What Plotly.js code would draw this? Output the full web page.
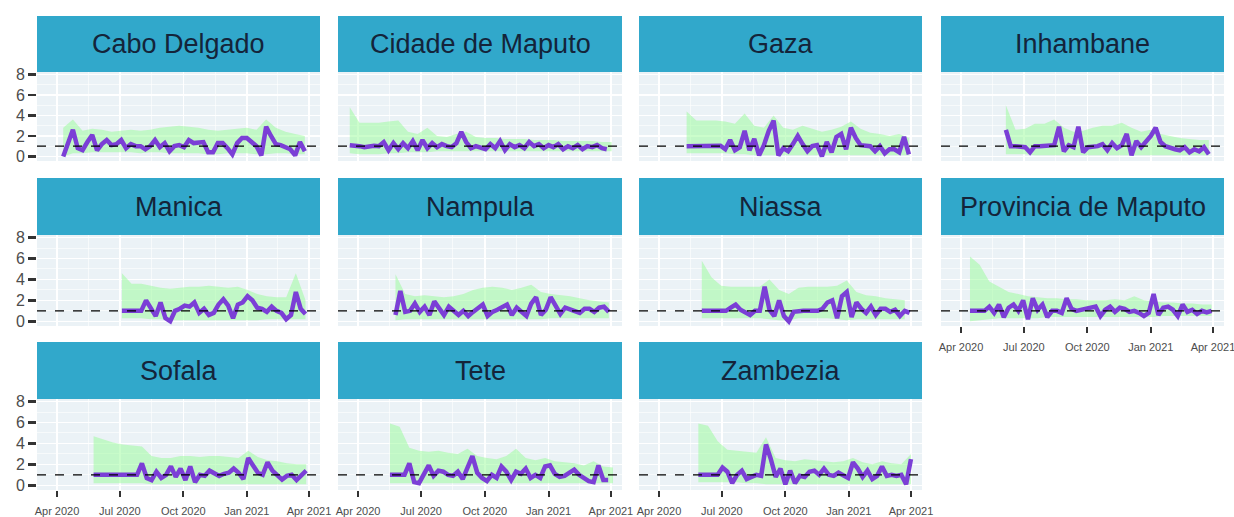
<!DOCTYPE html>
<html>
<head>
<meta charset="utf-8">
<script src="https://cdn.plot.ly/plotly-3.0.1.min.js"></script>
<style>
  html, body { margin: 0; padding: 0; background: #ffffff; }
  #chart { width: 1234px; height: 517px; }
</style>
</head>
<body>
<div id="chart"></div>
<script>
// ---------------- DATA ----------------
const provinces = ["Cabo Delgado", "Cidade de Maputo", "Gaza", "Inhambane",
  "Manica", "Nampula", "Niassa", "Provincia de Maputo",
  "Sofala", "Tete", "Zambezia"];

// first estimate date for each province (weekly Rt, 14-day ribbon)
const startDates = ["2020-04-10", "2020-03-20", "2020-05-11", "2020-06-05",
  "2020-07-04", "2020-05-25", "2020-06-02", "2020-04-14",
  "2020-05-24", "2020-05-17", "2020-05-28"];

const xTickVals = ["2020-04-01", "2020-07-01", "2020-10-01", "2021-01-01", "2021-04-01"];
const xTickText = ["Apr 2020", "Jul 2020", "Oct 2020", "Jan 2021", "Apr 2021"];
const yTickVals = [0, 2, 4, 6, 8];

// Rt (weekly)
const rtCabo = [0.0,1.2,2.6,0.8,0.6,1.4,2.1,0.6,1.2,1.6,1.1,1.2,1.6,0.8,1.2,1.0,1.0,0.7,1.0,1.6,0.9,1.3,0.5,1.0,1.1,0.9,1.6,1.3,1.4,1.4,0.4,0.4,1.3,1.3,0.8,0.2,1.3,1.8,1.8,1.4,1.0,0.1,2.9,2.0,1.2,1.1,0.9,0.7,0.1,1.4,0.5];
const rtCidade = [1.1,1.1,1.0,0.9,1.0,1.05,1.0,1.4,0.6,1.3,0.7,1.3,0.8,1.5,0.6,1.6,0.8,1.3,0.9,1.2,1.0,0.9,1.3,2.4,1.4,0.8,1.0,0.9,0.7,1.2,0.8,1.5,0.6,1.2,0.9,1.1,0.8,1.4,1.0,1.2,0.8,1.1,0.9,1.2,0.7,1.0,0.8,1.1,0.7,1.0,0.9,1.1,0.8,0.7];
const rtGaza = [1.0,1.0,1.0,1.0,1.0,1.0,1.0,1.05,0.7,1.6,0.6,0.9,2.5,0.6,1.7,0.1,1.1,2.5,3.5,0.1,0.8,0.5,1.2,2.0,1.2,0.5,1.0,1.1,0.0,1.4,0.4,1.9,2.2,0.7,2.8,1.8,1.1,1.0,1.0,0.5,1.0,0.3,0.7,0.7,0.4,1.9,0.2];
const rtInhambane = [2.6,1.0,1.0,1.0,0.9,0.4,1.0,1.0,1.0,1.0,1.1,2.9,0.5,1.1,0.9,2.9,0.4,0.9,0.9,1.0,1.2,0.6,1.3,0.8,1.1,2.2,0.1,1.5,0.9,1.4,2.0,2.8,1.4,1.0,0.8,0.7,0.6,0.9,0.4,0.7,0.5,0.9,0.2];
const rtManica = [1.0,1.0,1.0,1.0,1.0,2.0,1.3,0.5,1.8,0.3,0.0,1.0,1.2,1.5,1.4,1.8,0.8,1.2,0.6,0.8,1.6,2.1,1.5,0.3,1.6,1.8,2.4,2.0,1.3,1.2,0.9,1.4,1.0,0.8,0.2,0.6,2.8,1.2,0.7];
const rtNampula = [0.6,2.9,0.9,1.0,1.7,0.9,1.4,0.6,1.9,1.3,0.6,1.4,1.0,0.6,1.0,0.5,0.9,1.2,1.6,0.5,0.9,1.1,1.3,1.6,0.6,1.3,0.9,0.5,1.7,2.3,0.6,1.1,2.3,1.4,0.7,1.3,1.1,1.0,0.8,1.2,1.2,0.9,1.3,1.4,0.9];
const rtNiassa = [1.0,1.0,1.0,1.0,1.0,1.0,1.3,1.6,1.1,0.9,0.6,1.0,1.0,3.3,1.1,0.5,2.0,0.5,0.0,0.9,1.0,1.0,1.0,1.0,1.0,1.2,1.8,2.0,0.3,2.4,2.8,0.4,1.8,1.2,0.8,1.4,0.6,1.2,1.2,0.9,1.1,0.5,1.0,0.8];
const rtProvMaputo = [1.0,1.0,1.0,1.0,1.4,0.8,1.6,0.4,1.3,1.6,1.0,2.0,0.2,2.2,1.1,1.6,0.4,1.0,1.0,0.8,2.2,1.2,1.0,1.1,1.3,1.4,1.4,0.5,1.1,1.4,0.9,1.3,1.2,0.9,1.0,0.8,0.5,0.8,2.6,0.6,1.3,1.4,1.1,0.5,1.6,0.9,1.1,0.7,1.0,0.85,1.0];
const rtSofala = [1.0,1.0,1.0,1.0,1.0,1.0,1.0,1.0,1.0,1.0,2.1,0.7,0.5,1.3,0.7,1.0,1.8,0.8,1.6,0.5,1.8,0.3,1.0,0.9,1.4,1.2,0.9,1.1,1.2,1.6,1.2,0.6,2.6,1.9,1.2,1.0,2.2,1.4,0.9,0.55,0.9,1.0,0.5,0.9,1.4];
const rtTete = [1.0,1.0,1.0,1.0,2.1,0.3,0.2,1.0,1.9,0.9,1.4,1.3,1.0,0.9,1.3,0.6,1.8,2.8,1.2,0.7,0.4,1.0,0.7,1.8,1.3,0.5,1.3,1.1,1.6,0.7,1.0,0.7,1.8,1.9,1.1,0.8,0.9,1.2,1.5,1.0,0.7,0.4,0.3,1.9,0.5,0.5];
const rtZambezia = [1.0,1.0,1.0,1.0,1.0,1.7,1.3,0.2,1.0,1.4,0.6,0.8,1.0,0.9,3.9,2.5,0.8,1.6,0.1,1.4,0.2,0.9,0.8,1.3,1.4,1.0,1.6,1.0,0.9,1.2,0.9,0.7,2.2,1.6,0.8,1.4,0.6,0.9,1.8,0.9,1.0,0.9,1.0,0.1,2.5];

// credible interval upper bound (every 14 days)
const hiCabo = [2.8,3.6,2.5,2.7,2.6,2.4,2.5,2.6,2.5,2.6,2.8,2.9,3.0,2.9,2.8,2.6,2.5,2.6,2.7,2.8,2.6,3.6,2.8,2.4,2.2,2.0];
const hiCidade = [4.8,3.3,3.3,3.3,3.4,3.5,2.4,2.2,2.8,2.0,1.9,2.2,2.4,1.9,1.8,1.8,1.7,1.7,1.7,1.6,1.6,1.6,1.5,1.5,1.5,1.5,1.4,1.4];
const hiGaza = [4.4,3.5,3.5,3.5,3.4,3.2,4.2,3.0,2.8,4.0,2.8,2.6,3.0,2.7,2.4,2.6,2.9,3.4,2.7,2.3,2.2,2.0,2.2,1.8];
const hiInhambane = [5.0,2.6,2.7,3.2,3.2,3.6,2.8,2.4,2.5,2.8,3.0,3.0,3.3,2.8,2.4,2.6,2.2,2.0,1.8,1.7,1.6,1.6];
const hiManica = [4.6,3.6,3.6,3.4,3.2,3.1,3.2,3.3,3.3,3.4,3.3,3.2,3.3,3.0,2.6,2.4,2.3,2.3,4.6,2.0];
const hiNampula = [4.5,2.6,2.4,2.5,2.4,2.3,2.4,2.6,3.0,3.2,3.3,3.2,3.0,3.2,3.5,2.8,2.6,2.5,2.4,2.2,2.0,1.9,1.8];
const hiNiassa = [5.8,4.2,3.4,3.3,3.3,3.3,3.3,4.0,3.0,2.6,3.2,3.3,3.3,3.3,3.4,3.9,2.8,2.5,2.4,2.2,2.1,2.0];
const hiProvMaputo = [6.2,5.4,3.8,3.3,2.8,2.6,2.4,2.3,2.2,2.2,2.1,2.1,2.0,2.0,2.0,2.1,2.0,2.4,2.0,1.9,1.8,1.8,1.7,1.7,1.6,1.6];
const hiSofala = [4.7,4.4,4.1,3.9,3.8,3.7,2.8,2.6,2.6,2.8,2.8,2.7,2.8,2.8,2.7,2.6,3.3,2.7,2.4,2.3,2.1,2.0,2.0];
const hiTete = [5.9,5.6,3.6,3.3,3.2,3.3,3.1,3.0,3.5,2.8,2.6,2.5,2.8,3.5,2.6,2.4,2.6,2.3,2.2,2.1,1.9,2.3,1.8,1.7];
const hiZambezia = [5.9,5.7,4.2,3.4,3.3,3.2,3.1,4.6,2.6,2.4,2.3,2.5,2.4,2.3,2.2,2.3,2.6,2.2,2.0,2.3,2.1,2.0,3.0];

// credible interval lower bound (every 14 days)
const loCabo = [0.0,0.3,0.3,0.4,0.4,0.4,0.4,0.4,0.3,0.4,0.4,0.3,0.3,0.3,0.3,0.2,0.2,0.3,0.3,0.3,0.2,0.2,0.3,0.3,0.2,0.2];
const loCidade = [0.3,0.2,0.2,0.2,0.3,0.3,0.4,0.4,0.4,0.5,0.5,0.5,0.5,0.5,0.5,0.5,0.5,0.5,0.5,0.5,0.5,0.5,0.5,0.5,0.5,0.5,0.5,0.5];
const loGaza = [0.3,0.3,0.3,0.3,0.3,0.2,0.2,0.1,0.1,0.1,0.1,0.1,0.1,0.1,0.1,0.1,0.1,0.1,0.1,0.1,0.1,0.1,0.1,0.1];
const loInhambane = [0.2,0.2,0.2,0.1,0.1,0.1,0.1,0.1,0.1,0.1,0.1,0.1,0.1,0.1,0.1,0.1,0.1,0.1,0.1,0.1,0.1,0.1];
const loManica = [0.3,0.3,0.3,0.2,0.2,0.1,0.1,0.1,0.1,0.1,0.1,0.1,0.1,0.1,0.1,0.2,0.2,0.2,0.2,0.2];
const loNampula = [0.1,0.2,0.2,0.2,0.2,0.2,0.2,0.2,0.2,0.2,0.2,0.2,0.2,0.2,0.2,0.2,0.3,0.3,0.3,0.3,0.3,0.3,0.3];
const loNiassa = [0.3,0.3,0.3,0.3,0.3,0.3,0.3,0.2,0.1,0.1,0.3,0.3,0.3,0.3,0.2,0.1,0.2,0.2,0.2,0.2,0.2,0.2];
const loProvMaputo = [0.0,0.1,0.2,0.3,0.3,0.3,0.3,0.3,0.4,0.4,0.4,0.4,0.4,0.4,0.4,0.4,0.4,0.4,0.4,0.4,0.5,0.5,0.5,0.5,0.5,0.5];
const loSofala = [0.2,0.2,0.2,0.2,0.2,0.2,0.1,0.1,0.1,0.1,0.1,0.1,0.1,0.1,0.1,0.1,0.1,0.1,0.1,0.1,0.1,0.1,0.1];
const loTete = [0.2,0.2,0.2,0.2,0.2,0.2,0.2,0.2,0.2,0.2,0.2,0.2,0.2,0.2,0.2,0.2,0.2,0.2,0.2,0.2,0.2,0.2,0.2,0.2];
const loZambezia = [0.3,0.3,0.3,0.3,0.3,0.2,0.2,0.1,0.1,0.1,0.1,0.1,0.1,0.1,0.1,0.1,0.1,0.1,0.1,0.1,0.1,0.1,0.1];

const rtSeries = [rtCabo, rtCidade, rtGaza, rtInhambane, rtManica, rtNampula, rtNiassa, rtProvMaputo, rtSofala, rtTete, rtZambezia];
const hiSeries = [hiCabo, hiCidade, hiGaza, hiInhambane, hiManica, hiNampula, hiNiassa, hiProvMaputo, hiSofala, hiTete, hiZambezia];
const loSeries = [loCabo, loCidade, loGaza, loInhambane, loManica, loNampula, loNiassa, loProvMaputo, loSofala, loTete, loZambezia];

// ---------------- HELPERS ----------------
function dateSeq(start, n, stepDays) {
  const base = new Date(start + "T00:00:00Z").getTime();
  const out = [];
  for (let i = 0; i < n; i++) {
    out.push(new Date(base + i * stepDays * 86400000).toISOString().slice(0, 10));
  }
  return out;
}

// ---------------- LAYOUT GEOMETRY (pixels) ----------------
const W = 1234, H = 517;
const colPx = [[37, 320], [338, 622], [639, 922], [941, 1224]];
const rowPanelPx = [[72, 161], [235, 326], [399, 490]];
const rowStripPx = [[16, 72], [178, 235], [342, 399]];
const bottomPanels = [7, 8, 9, 10];

const FONT = "Liberation Sans, Arial, Helvetica, sans-serif";
const layout = {
  width: W, height: H,
  margin: { l: 0, r: 0, t: 0, b: 0 },
  paper_bgcolor: "#ffffff",
  plot_bgcolor: "#ebf2f6",
  showlegend: false,
  font: { family: FONT },
  shapes: [],
  annotations: []
};
const traces = [];

provinces.forEach((name, i) => {
  const n = i + 1;
  const row = Math.floor(i / 4), col = i % 4;
  const xs = n === 1 ? "x" : "x" + n;
  const ys = n === 1 ? "y" : "y" + n;
  const xKey = n === 1 ? "xaxis" : "xaxis" + n;
  const yKey = n === 1 ? "yaxis" : "yaxis" + n;
  const xd = [colPx[col][0] / W, colPx[col][1] / W];
  const yd = [1 - rowPanelPx[row][1] / H, 1 - rowPanelPx[row][0] / H];
  const isBottom = bottomPanels.includes(i);
  const isLeft = col === 0;

  layout[xKey] = {
    type: "date", domain: xd, anchor: ys,
    range: ["2020-03-03", "2021-04-17"],
    tickmode: "array", tickvals: xTickVals, ticktext: xTickText,
    showgrid: true, gridcolor: "#ffffff", gridwidth: 1.4,
    minor: { tickvals: ["2020-05-16", "2020-08-16", "2020-11-16", "2021-02-15"],
             showgrid: true, gridcolor: "#ffffff", gridwidth: 0.6, ticks: "" },
    zeroline: false, showline: false,
    ticks: isBottom ? "outside" : "", ticklen: 6, tickwidth: 2, tickcolor: "#333333",
    showticklabels: isBottom, ticklabelstandoff: 5, ticklabeloverflow: "allow",
    tickfont: { size: 11, color: "#4d4d4d", family: FONT },
    automargin: false, fixedrange: true
  };
  layout[yKey] = {
    domain: yd, anchor: xs,
    range: [-0.45, 8.25],
    tickmode: "array", tickvals: yTickVals,
    showgrid: true, gridcolor: "#ffffff", gridwidth: 1.4,
    minor: { tickvals: [1, 3, 5, 7], showgrid: true, gridcolor: "#ffffff", gridwidth: 0.6, ticks: "" },
    zeroline: false, showline: false,
    ticks: isLeft ? "outside" : "", ticklen: 8, tickwidth: 2.5, tickcolor: "#333333",
    showticklabels: isLeft,
    tickfont: { size: 16, color: "#4d4d4d", family: FONT },
    automargin: false, fixedrange: true
  };

  const rDates = dateSeq(startDates[i], rtSeries[i].length, 7);
  const bDates = dateSeq(startDates[i], hiSeries[i].length, 14);

  traces.push({
    x: bDates, y: loSeries[i], xaxis: xs, yaxis: ys,
    mode: "lines", line: { width: 0, color: "rgba(152,251,152,0)" },
    hoverinfo: "skip", showlegend: false
  });
  traces.push({
    x: bDates, y: hiSeries[i], xaxis: xs, yaxis: ys,
    mode: "lines", line: { width: 0, color: "rgba(152,251,152,0)" },
    fill: "tonexty", fillcolor: "rgba(152,251,152,0.5)",
    hoverinfo: "skip", showlegend: false
  });
  traces.push({
    x: rDates, y: rtSeries[i], xaxis: xs, yaxis: ys,
    mode: "lines", line: { width: 4.5, color: "#7b3fd6" },
    showlegend: false, name: name
  });

  // dashed reference line at Rt = 1
  layout.shapes.push({
    type: "line", xref: xs + " domain", yref: ys,
    x0: 0, x1: 1, y0: 1, y1: 1,
    line: { color: "#000000", width: 1.3, dash: "dash" }, layer: "above"
  });
  // facet strip
  layout.shapes.push({
    type: "rect", xref: "paper", yref: "paper",
    x0: xd[0], x1: xd[1],
    y0: 1 - rowStripPx[row][1] / H, y1: 1 - rowStripPx[row][0] / H,
    fillcolor: "#31a8cb", line: { width: 0 }, layer: "above"
  });
  layout.annotations.push({
    text: name, xref: "paper", yref: "paper",
    x: (xd[0] + xd[1]) / 2,
    y: 1 - (rowStripPx[row][0] + rowStripPx[row][1]) / 2 / H,
    xanchor: "center", yanchor: "middle", showarrow: false,
    font: { size: 27, color: "#14243a", family: FONT }
  });
});

Plotly.newPlot("chart", traces, layout, { displayModeBar: false, staticPlot: true });
</script>
</body>
</html>
